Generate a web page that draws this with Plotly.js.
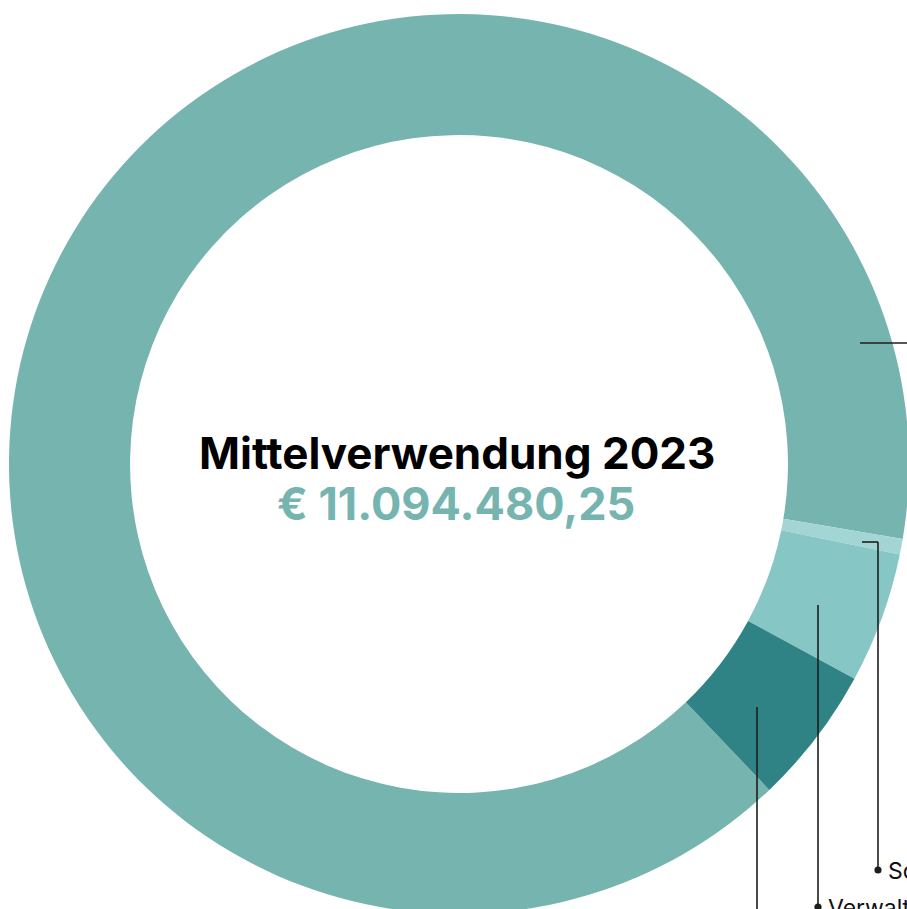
<!DOCTYPE html>
<html>
<head>
<meta charset="utf-8">
<script src="https://cdn.plot.ly/plotly-3.0.1.min.js"></script>
<style>
  html, body { margin: 0; padding: 0; overflow: hidden; background: #ffffff; width: 907px; height: 909px; }
  #chart { width: 1000px; height: 1000px; }
</style>
</head>
<body>
<div id="chart"></div>
<script>
// ---- data ----
const categories = ["Satzungsgemäße Projektarbeit", "Sonstiges", "Verwaltung", "Werbung und Öffentlichkeitsarbeit"];
const amounts = [9960350.25, 61640, 520830, 551660];
const sliceColors = ["#76B4B0", "#A3D5D4", "#86C6C5", "#2F8385"];
const chartTitle = "Mittelverwendung 2023";
const totalLabel = "€ 11.094.480,25";

// ---- layout helpers (pixel -> paper) ----
const W = 1000, H = 1000;
const px = x => x / W;
const py = y => 1 - y / H;

// donut geometry
const cx = 459, cy = 464, R = 450;

// leader lines (positions only, style)
const leaders = [
  { label: 0, pts: [[860, 343], [960, 343]], dot: [960, 343] },
  { label: 1, pts: [[862, 542], [878, 542], [878, 870]], dot: [878, 870] },
  { label: 2, pts: [[818, 605], [818, 907]], dot: [818, 907] },
  { label: 3, pts: [[757, 707], [757, 944]], dot: [757, 944] }
];

const lineColor = "#1e1e1e";
const shapes = [];
const annotations = [];
leaders.forEach(l => {
  for (let i = 0; i < l.pts.length - 1; i++) {
    shapes.push({
      type: "line", xref: "paper", yref: "paper",
      x0: px(l.pts[i][0]), y0: py(l.pts[i][1]),
      x1: px(l.pts[i + 1][0]), y1: py(l.pts[i + 1][1]),
      line: { color: lineColor, width: 1.6 }
    });
  }
  const r = 3.6;
  shapes.push({
    type: "circle", xref: "paper", yref: "paper",
    x0: px(l.dot[0] - r), x1: px(l.dot[0] + r),
    y0: py(l.dot[1] + r), y1: py(l.dot[1] - r),
    fillcolor: lineColor, line: { width: 0 }
  });
  annotations.push({
    xref: "paper", yref: "paper",
    x: px(l.dot[0] + 8), y: py(l.dot[1] + 1),
    xanchor: "left", yanchor: "middle",
    text: categories[l.label], showarrow: false,
    font: { family: "Inter, sans-serif", size: 23, color: "#111111" }
  });
});

annotations.push({
  xref: "paper", yref: "paper",
  x: px(457), y: py(453), xanchor: "center", yanchor: "middle",
  text: chartTitle, showarrow: false,
  font: { family: "Inter, sans-serif", size: 44, weight: 700, color: "#000000" }
});
annotations.push({
  xref: "paper", yref: "paper",
  x: px(456), y: py(503), xanchor: "center", yanchor: "middle",
  text: totalLabel, showarrow: false,
  font: { family: "Inter, sans-serif", size: 45, weight: 700, color: sliceColors[0] }
});

const trace = {
  type: "pie",
  labels: categories,
  values: amounts,
  hole: 0.731,
  sort: false,
  direction: "clockwise",
  rotation: 136.4,
  textinfo: "none",
  hoverinfo: "none",
  marker: { colors: sliceColors, line: { width: 0 } },
  domain: { x: [px(cx - R), px(cx + R)], y: [py(cy + R), py(cy - R)] },
  showlegend: false
};

const layout = {
  width: W, height: H,
  margin: { l: 0, r: 0, t: 0, b: 0 },
  paper_bgcolor: "#ffffff",
  plot_bgcolor: "#ffffff",
  showlegend: false,
  shapes: shapes,
  annotations: annotations
};

Plotly.newPlot("chart", [trace], layout, { staticPlot: true, displayModeBar: false });
</script>
</body>
</html>
